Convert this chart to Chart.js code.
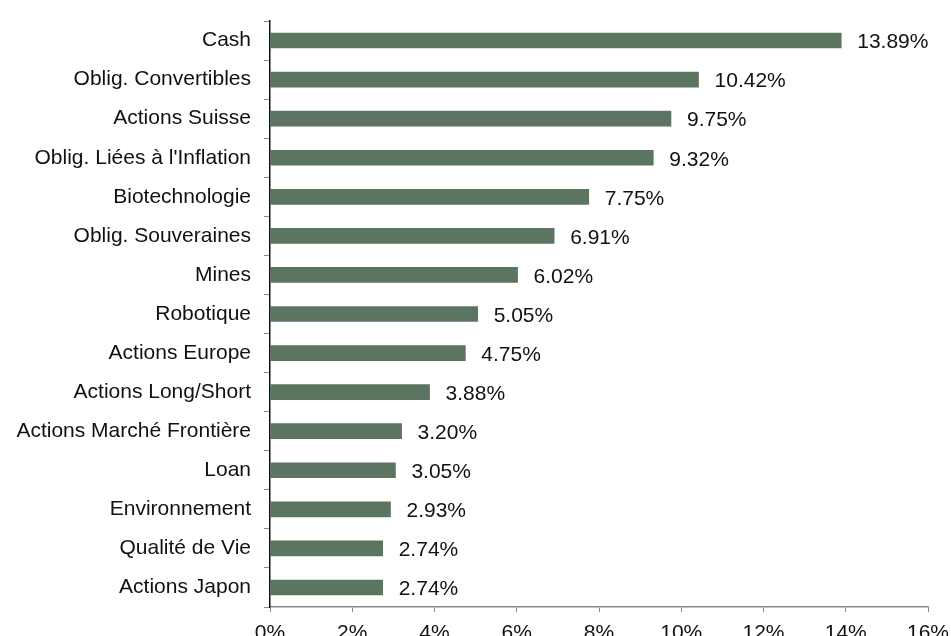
<!DOCTYPE html>
<html>
<head>
<meta charset="utf-8">
<script src="https://cdn.jsdelivr.net/npm/chart.js@4"></script>
<style>
  html, body { margin: 0; padding: 0; background: #fff; }
  #wrap { width: 951px; height: 636px; }
</style>
</head>
<body>
<div id="wrap"><canvas id="allocChart" width="951" height="636"></canvas></div>
<script>
var categories = ["Cash", "Oblig. Convertibles", "Actions Suisse", "Oblig. Liées à l'Inflation",
  "Biotechnologie", "Oblig. Souveraines", "Mines", "Robotique", "Actions Europe",
  "Actions Long/Short", "Actions Marché Frontière", "Loan", "Environnement",
  "Qualité de Vie", "Actions Japon"];
var weights = [13.89, 10.42, 9.75, 9.32, 7.75, 6.91, 6.02, 5.05, 4.75, 3.88, 3.20, 3.05, 2.93, 2.74, 2.74];
var xTicks = [0, 2, 4, 6, 8, 10, 12, 14, 16];

var fontFamily = "'Liberation Sans', Arial, sans-serif";

// etiquettes de valeur à droite des barres
var valueLabels = {
    id: "valueLabels",
    afterDatasetsDraw: function (chart) {
        var ctx = chart.ctx;
        var meta = chart.getDatasetMeta(0);
        ctx.save();
        ctx.font = "21px " + fontFamily;
        ctx.fillStyle = "#111";
        ctx.textAlign = "left";
        ctx.textBaseline = "middle";
        meta.data.forEach(function (bar, i) {
            ctx.fillText(weights[i].toFixed(2) + "%", bar.x + 16, bar.y + 2);
        });
        ctx.restore();
    }
};

var config = {
    type: "bar",
    data: {
        labels: categories,
        datasets: [{
            data: weights,
            backgroundColor: "#5b7561",
            barThickness: 15
        }]
    },
    options: {
        indexAxis: "y",
        responsive: false,
        devicePixelRatio: 1,
        animation: false,
        layout: { padding: { top: 21, right: 23, left: 0, bottom: 0 } },
        plugins: {
            legend: { display: false },
            tooltip: { enabled: false }
        },
        scales: {
            x: {
                min: 0,
                max: 16,
                afterBuildTicks: function (axis) {
                    axis.ticks = xTicks.map(function (v) { return { value: v }; });
                },
                afterFit: function (axis) {
                    axis.height = 29;
                    axis.paddingLeft = 0;
                    axis.paddingRight = 0;
                },
                grid: { drawOnChartArea: false, drawTicks: true, tickLength: 5, color: "#8a8a8a" },
                border: { color: "#8a8a8a", width: 1.5 },
                ticks: {
                    padding: 9,
                    color: "#111",
                    font: { size: 21, family: fontFamily },
                    maxRotation: 0,
                    callback: function (v) { return v + "%"; }
                }
            },
            y: {
                afterFit: function (axis) {
                    axis.width = 270;
                    axis.paddingTop = 0;
                    axis.paddingBottom = 0;
                },
                grid: { drawOnChartArea: false, drawTicks: true, tickLength: 6, color: "#8a8a8a", offset: true },
                border: { color: "#111", width: 1.5 },
                ticks: {
                    padding: 13,
                    color: "#111",
                    font: { size: 21, family: fontFamily }
                }
            }
        }
    },
    plugins: [valueLabels]
};

var allocChart = new Chart(document.getElementById("allocChart"), config);
</script>
</body>
</html>
